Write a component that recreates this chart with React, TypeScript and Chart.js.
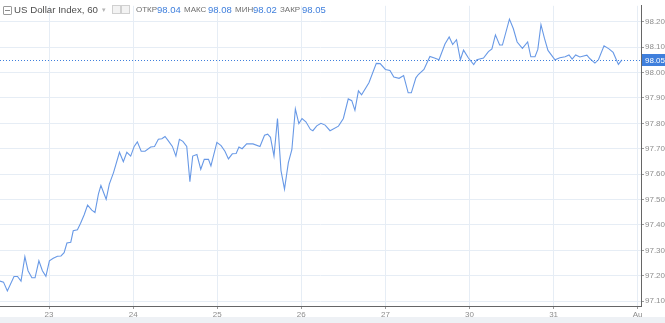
import React, { useEffect, useRef } from "react";
import { Chart, registerables } from "chart.js";

Chart.register(...registerables);

// ---- data (hours counted from 23 Jul 00:00, trading hours only) ----
const hours = [
  -14.0, -13.0, -11.9, -10.0, -9.0, -8.0, -6.9, -6.0, -4.9, -4.0, -2.9, -1.9, -0.9,
  0.1, 1.2, 2.4, 3.4, 4.3, 5.1, 6.2, 6.9, 8.1, 9.0, 10.0, 11.0, 12.2, 13.1, 14.1, 14.8,
  16.3, 17.2, 18.4, 20.1, 21.2, 22.2, 23.3, 24.3, 25.2, 26.3, 27.4, 29.0, 30.1, 31.2,
  32.2, 33.1, 34.0, 35.2, 36.2, 37.2, 38.2, 39.3, 40.2, 41.0, 42.2, 43.3, 44.3, 45.5,
  46.2, 47.9, 49.1, 50.2, 51.2, 52.3, 53.4, 54.2, 55.1, 56.4, 58.2, 60.2, 61.5, 62.4,
  63.2, 64.2, 65.2, 66.2, 67.2, 68.3, 69.3, 70.3, 71.3, 72.2, 73.3, 74.6, 75.3, 76.4,
  77.6, 78.8, 80.2, 82.6, 84.0, 85.4, 86.4, 87.3, 88.3, 89.2, 91.3, 93.4, 94.5, 96.0,
  97.3, 98.4, 99.9, 101.2, 102.5, 103.4, 104.7, 105.4, 107.0, 108.7, 110.0, 111.3,
  113.0, 114.2, 115.2, 116.3, 117.4, 118.3, 119.7, 121.2, 122.1, 124.0, 125.4, 126.4,
  127.4, 128.6, 129.4, 131.4, 132.5, 133.6, 135.1, 136.6, 137.5, 138.7, 139.5, 140.4,
  141.4, 142.4, 144.4, 145.8, 147.3, 148.4, 149.3, 150.3, 151.5, 153.5, 154.4, 155.8,
  156.8, 158.4, 159.8, 161.0, 162.5, 163.5,
];
const prices = [
  97.179, 97.175, 97.14, 97.197, 97.197, 97.179, 97.275, 97.22, 97.192, 97.192, 97.259, 97.22, 97.198,
  97.259, 97.269, 97.277, 97.278, 97.291, 97.329, 97.332, 97.377, 97.381, 97.407, 97.439, 97.478, 97.458, 97.449, 97.522, 97.555,
  97.501, 97.561, 97.606, 97.686, 97.649, 97.686, 97.671, 97.709, 97.727, 97.69, 97.69, 97.707, 97.709, 97.737,
  97.739, 97.748, 97.732, 97.709, 97.671, 97.737, 97.729, 97.709, 97.57, 97.671, 97.677, 97.619, 97.658, 97.658,
  97.632, 97.725, 97.712, 97.69, 97.66, 97.68, 97.681, 97.707, 97.7, 97.719, 97.719, 97.709, 97.753, 97.757,
  97.745, 97.671, 97.819, 97.614, 97.541, 97.645, 97.696, 97.857, 97.799, 97.819, 97.806, 97.776, 97.771, 97.79,
  97.8, 97.793, 97.771, 97.789, 97.819, 97.896, 97.889, 97.851, 97.928, 97.912, 97.96, 98.036, 98.035, 98.012,
  98.008, 97.982, 97.977, 97.988, 97.92, 97.92, 97.979, 97.992, 98.012, 98.063, 98.057, 98.05,
  98.112, 98.14, 98.11, 98.129, 98.05, 98.088, 98.057, 98.031, 98.05, 98.057, 98.082, 98.093,
  98.148, 98.108, 98.108, 98.21, 98.173, 98.12, 98.095, 98.12, 98.062, 98.062, 98.091, 98.188,
  98.134, 98.087, 98.05, 98.058, 98.062, 98.069, 98.053, 98.069, 98.061, 98.068, 98.054, 98.037,
  98.05, 98.105, 98.093, 98.079, 98.032, 98.05,
];

const xTickHours = [0, 24, 48, 72, 96, 120, 144, 168];
const xTickLabels = ["23", "24", "25", "26", "27", "30", "31", "Au"];
const yTickValues = [97.1, 97.2, 97.3, 97.4, 97.5, 97.6, 97.7, 97.8, 97.9, 98.0, 98.1, 98.2];

const symbolTitle = "US Dollar Index, 60";
const ohlcLabels = ["ОТКР", "МАКС", "МИН", "ЗАКР"];
const ohlcValues = [98.04, 98.08, 98.02, 98.05];
const closePrice = 98.05;

const X_MIN = -14;
const X_MAX = 168.95;
const Y_MIN = 97.081;
const Y_MAX = 98.2625;

const FONT = "'Liberation Sans', Arial, sans-serif";
const LINE_BLUE = "#6899e6";
const LABEL_BLUE = "#3f7fdc";
const GRID = "#e6edf5";

const lastPricePlugin = {
  id: "lastPrice",
  afterDatasetsDraw(chart: any) {
    const { ctx, chartArea, scales } = chart;
    const y = Math.round(scales.y.getPixelForValue(closePrice)) + 0.5;
    ctx.save();
    ctx.strokeStyle = LABEL_BLUE;
    ctx.lineWidth = 1;
    ctx.setLineDash([1, 2]);
    ctx.beginPath();
    ctx.moveTo(chartArea.left, y);
    ctx.lineTo(chartArea.right, y);
    ctx.stroke();
    ctx.setLineDash([]);
    ctx.fillStyle = LABEL_BLUE;
    ctx.fillRect(chartArea.right + 1, y - 6.5, chart.width - chartArea.right - 1, 12);
    ctx.fillStyle = "#ffffff";
    ctx.font = `8px ${FONT}`;
    ctx.textBaseline = "middle";
    ctx.textAlign = "left";
    ctx.fillText(closePrice.toFixed(2), chartArea.right + 4, y);
    ctx.restore();
  },
};

export default function App() {
  const canvasRef = useRef<HTMLCanvasElement | null>(null);

  useEffect(() => {
    const canvas = canvasRef.current;
    if (!canvas) return;
    const chart = new Chart(canvas, {
      type: "line",
      data: {
        datasets: [
          {
            data: hours.map((h, i) => ({ x: h, y: prices[i] })),
            borderColor: LINE_BLUE,
            borderWidth: 1.1,
            pointRadius: 0,
            tension: 0,
            fill: false,
          },
        ],
      },
      options: {
        animation: false,
        responsive: false,
        maintainAspectRatio: false,
        layout: { padding: 0 },
        plugins: { legend: { display: false }, tooltip: { enabled: false } },
        scales: {
          x: {
            type: "linear",
            min: X_MIN,
            max: X_MAX,
            afterBuildTicks: (s: any) => {
              s.ticks = xTickHours.map((v) => ({ value: v }));
            },
            afterFit: (s: any) => {
              s.height = 17;
            },
            ticks: {
              autoSkip: false,
              maxRotation: 0,
              padding: 1,
              color: "#8d8d8d",
              font: { size: 8, family: FONT },
              callback: (_v: any, i: number) => xTickLabels[i],
            },
            grid: { color: GRID, tickLength: 3, tickColor: "#9a9a9a" },
            border: { color: "#666666" },
          },
          y: {
            position: "right",
            min: Y_MIN,
            max: Y_MAX,
            afterBuildTicks: (s: any) => {
              s.ticks = yTickValues.map((v) => ({ value: v }));
            },
            afterFit: (s: any) => {
              s.width = 24;
            },
            ticks: {
              padding: 1,
              color: "#8d8d8d",
              font: { size: 8, family: FONT },
              callback: (v: any) => Number(v).toFixed(2),
            },
            grid: { color: GRID, tickLength: 3, tickColor: "#9a9a9a" },
            border: { color: "#666666" },
          },
        },
      } as any,
      plugins: [lastPricePlugin],
    });
    return () => chart.destroy();
  }, []);

  const labelLefts = [136, 184, 235, 280];
  const valueLefts = [157, 208, 253, 302];

  return (
    <div style={{ position: "fixed", left: 0, top: 0, width: 665, height: 323, background: "#ffffff", overflow: "hidden", fontFamily: FONT }}>
      <div style={{ position: "absolute", left: 0, top: 317, width: 665, height: 6, background: "#eef1f5" }} />
      <canvas ref={canvasRef} width={665} height={323} style={{ position: "absolute", left: 0, top: 0, width: 665, height: 323 }} />
      <div style={{ position: "absolute", left: 3, top: 6, width: 7, height: 7, border: "1px solid #9a9a9a", borderRadius: 1, boxSizing: "content-box" }}>
        <div style={{ position: "absolute", left: 1, top: 3, width: 5, height: 1, background: "#8a8a8a" }} />
      </div>
      <div style={{ position: "absolute", left: 14, top: 3, fontSize: 9.7, lineHeight: "13px", color: "#4e4e4e", whiteSpace: "nowrap" }}>
        {symbolTitle}
      </div>
      <div style={{ position: "absolute", left: 102, top: 3, fontSize: 7, lineHeight: "13px", color: "#b5b5b5" }}>▾</div>
      <div style={{ position: "absolute", left: 112, top: 5, width: 7, height: 7, border: "1px solid #d0d0d0", background: "#f3f3f3" }} />
      <div style={{ position: "absolute", left: 121, top: 5, width: 7, height: 7, border: "1px solid #d0d0d0", background: "#f3f3f3" }} />
      {ohlcLabels.map((l, i) => (
        <React.Fragment key={l}>
          <div style={{ position: "absolute", left: labelLefts[i], top: 4, fontSize: 8, lineHeight: "12px", color: "#6f6f6f", whiteSpace: "nowrap" }}>{l}</div>
          <div style={{ position: "absolute", left: valueLefts[i], top: 3, fontSize: 9.5, lineHeight: "13px", color: LABEL_BLUE, whiteSpace: "nowrap" }}>
            {ohlcValues[i].toFixed(2)}
          </div>
        </React.Fragment>
      ))}
    </div>
  );
}
